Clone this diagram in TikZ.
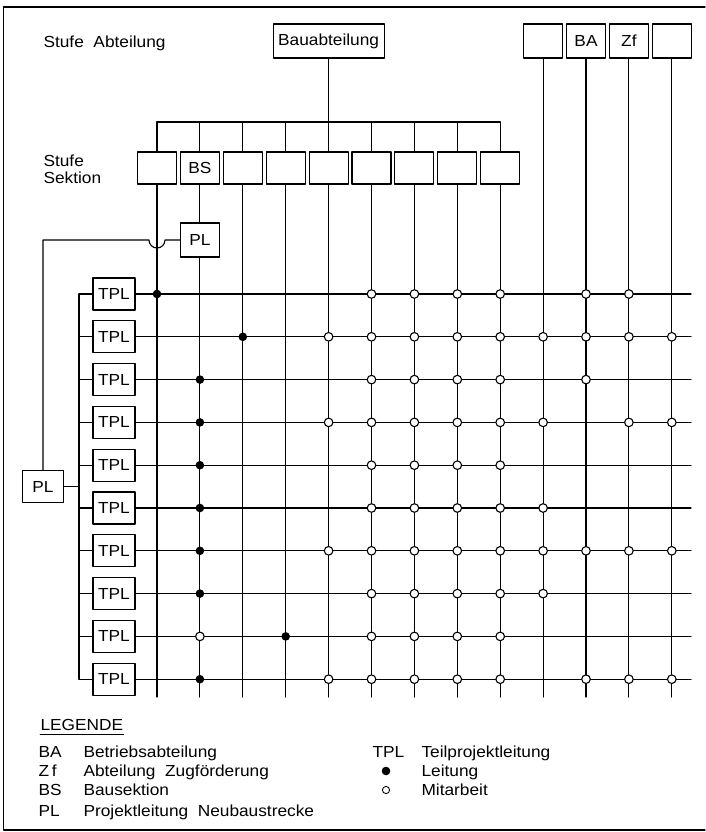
\documentclass[tikz,border=0pt]{standalone}
\usepackage{fontspec}
\setmainfont[FakeStretch=1.08]{Liberation Sans}
\usetikzlibrary{calc}

\begin{document}
\begin{tikzpicture}[x=1pt,y=-1pt,line width=1.1pt,line join=round,line cap=round,
	font=\fontsize{16}{16}\selectfont,
	box/.style={draw,inner sep=0pt,minimum width=39pt,minimum height=32pt},
	label/.style={anchor=base west,inner sep=0pt},
	work/.style={draw,fill=white}]
	\def\xa{157} \def\dx{42.9} \def\ya{294} \def\dy{42.8}
	\def\yb{122} \def\yend{697} \def\xend{691} \def\xbus{79} \def\rad{4.3}
	\useasboundingbox (0,0) rectangle (705,832);
	\draw (705,7) -- (3.5,7) -- (3.5,830) -- (705,830);
	
	\node[label] (stA) at (43,47.5) {Stufe\ \ Abteilung};
	\node[label] (stS) at (43,166) {Stufe};
	\node[label] (stS2) at (43,183) {Sektion};
	
	\node[box,minimum width=111pt,minimum height=34pt] (bau) at ({\xa+4*\dx},41) {Bauabteilung};
	\foreach \i/\t in {10/,11/BA,12/Zf,13/}
		\node[box,minimum height=34pt] (a\i) at ({\xa+(\i-1)*\dx},41) {\t};
	\foreach \i/\t in {1/,2/BS,3/,4/,5/,6/,7/,8/,9/}
		\node[box] (s\i) at ({\xa+(\i-1)*\dx},168) {\t};
	\node[box,minimum height=34pt] (pl1) at (s2 |- 0,240) {PL};
	\foreach \j in {1,...,10}
		\node[box,minimum width=42pt] (t\j) at (114,{\ya+(\j-1)*\dy}) {TPL};
	\node[box,minimum width=41pt] (pl2) at (43,{\ya+4.5*\dy}) {PL};
	
	\draw (bau) -- (bau |- 0,\yb);
	\draw (s1.north) -- (s1.north |- 0,\yb) -- (s9.north |- 0,\yb) -- (s9.north);
	\foreach \i in {2,...,8}
		\draw (s\i.north) -- (s\i.north |- 0,\yb);
	\foreach \i in {1,3,4,5,6,7,8,9}
		\draw (s\i.south) -- (s\i.south |- 0,\yend);
	\draw (s2) -- (pl1);
	\draw (pl1.south) -- (pl1.south |- 0,\yend);
	\foreach \i in {10,...,13}
		\draw (a\i.south) -- (a\i.south |- 0,\yend);
	
	\draw (pl1.west) -- ($(s1 |- pl1)+(8,0)$) arc (0:180:8) -- (pl2 |- pl1) -- (pl2.north);
	\draw (pl2.east) -- (pl2.east -| \xbus,0);
	\draw (t1.west -| \xbus,0) -- (t10.west -| \xbus,0);
	\foreach \j in {1,...,10}{
		\draw (t\j.west) -- (t\j.west -| \xbus,0);
		\draw (t\j.east) -- (t\j.east -| \xend,0);
	}
	
	\foreach \r/\c in {1/1,2/3,3/2,4/2,5/2,6/2,7/2,8/2,9/4,10/2}
		\fill ({\xa+(\c-1)*\dx},{\ya+(\r-1)*\dy}) circle (\rad);
	\foreach \r/\cs in {1/{6,7,8,9,11,12},2/{5,6,7,8,9,10,11,12,13},3/{6,7,8,9,11},
		4/{5,6,7,8,9,10,12,13},5/{6,7,8,9},6/{6,7,8,9,10},7/{5,6,7,8,9,10,11,12,13},
		8/{6,7,8,9,10},9/{2,6,7,8,9},10/{5,6,7,8,9,11,12,13}}
		\foreach \c in \cs
			\draw[work] ({\xa+(\c-1)*\dx},{\ya+(\r-1)*\dy}) circle (\rad);
	
	\node[label] (leg) at (40,730) {LEGENDE};
	\draw[line width=0.9pt] ($(leg.base west)+(0,4)$) -- ($(leg.base east)+(0,4)$);
	\foreach \y/\a/\b in {757/BA/Betriebsabteilung,776/Z\,f/Abteilung\ \ Zugförderung,
		795/BS/Bausektion,816/PL/Projektleitung\ \ Neubaustrecke}{
		\node[label] at (38,\y) {\a};
		\node[label] at (83,\y) {\b};
	}
	\node[label] (tpl) at (372,757) {TPL};
	\node[label] (lt) at (421,757) {Teilprojektleitung};
	\node[label] (le) at (421,776) {Leitung};
	\node[label] (mi) at (421,795) {Mitarbeit};
	\fill (386,771) circle (\rad);
	\draw[line width=0.9pt] (386,790) circle (3.6);
\end{tikzpicture}
\end{document}
